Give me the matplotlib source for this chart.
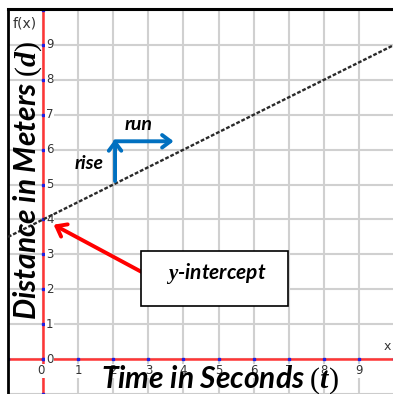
import matplotlib
import numpy as np

matplotlib.use("Agg")
from matplotlib import pyplot as plt
from matplotlib.patches import Rectangle

# data
x_ticks = [0, 1, 2, 3, 4, 5, 6, 7, 8, 9]
y_ticks = [0, 1, 2, 3, 4, 5, 6, 7, 8, 9]
line_x = [-1.0, 10.0]
line_y = [3.5, 9.0]
rise_start = (2.05, 5.1)
rise_end = (2.05, 6.3)
run_start = (2.05, 6.24)
run_end = (3.72, 6.24)
callout_tail = (2.8, 2.5)
callout_head = (0.3, 3.85)

plt.rcParams["mathtext.fontset"] = "custom"
plt.rcParams["mathtext.rm"] = "Liberation Serif"
plt.rcParams["mathtext.it"] = "Liberation Serif:italic:bold"

W, H = 393, 394
fig = plt.figure(figsize=(W / 100, H / 100), dpi=100)
ax = fig.add_axes([8 / W, 0, 385 / W, 385 / H])
ax.set_xlim(-1.0, 9.97)
ax.set_ylim(-1.0, 10.03)

# grid
for v in range(-1, 11):
    ax.axvline(v, color="#d0d0d0", lw=1.5, zorder=0)
    ax.axhline(v, color="#d0d0d0", lw=1.5, zorder=0)

# axes lines
ax.axvline(0, color="#ff3535", lw=1.8, zorder=1)
ax.axhline(0, color="#ff3535", lw=1.8, zorder=1)
ticks = np.arange(-1, 11)
ax.plot(ticks, np.zeros_like(ticks), "s", color="#2020e0", ms=2, zorder=2)
ax.plot(np.zeros_like(ticks), ticks, "s", color="#2020e0", ms=2, zorder=2)

lab = dict(fontsize=8.5, color="#333333", family="DejaVu Sans", zorder=3,
           bbox=dict(facecolor="white", edgecolor="none", pad=0.3))
for t in y_ticks:
    ax.text(0.08, t, str(t), ha="left", va="center", **lab)
for t in x_ticks:
    ax.text(t - (0.05 if t == 0 else 0), -0.33, str(t), ha="center", va="center", **lab)
ax.text(-0.53, 9.62, "f(x)", ha="center", va="center", fontsize=10, color="#333333")
ax.text(9.8, 0.35, "x", ha="center", va="center", fontsize=9, color="#333333")

# line
ax.plot(line_x, line_y, color="#2a2a2a", lw=1.7, ls=(0, (1.6, 0.8)), zorder=4)

# rise / run arrows
blue = "#0070c0"
arr = dict(arrowstyle="->,head_length=0.6,head_width=0.45", color=blue, lw=2.8,
           shrinkA=0, shrinkB=0)
ax.annotate("", xy=rise_end, xytext=rise_start, arrowprops=arr, zorder=5)
ax.annotate("", xy=run_end, xytext=run_start, arrowprops=arr, zorder=5)
txt = dict(family="Lato", weight="bold", style="italic", color="black")
ax.text(1.72, 5.59, "rise", ha="right", va="center", fontsize=14, **txt)
ax.text(2.73, 6.71, "run", ha="center", va="center", fontsize=14, **txt)

# y-intercept callout
ax.annotate("", xy=callout_head, xytext=callout_tail,
            arrowprops=dict(arrowstyle="->,head_length=0.65,head_width=0.5",
                            color="#ff0000", lw=2.8, shrinkA=0, shrinkB=0), zorder=5)
ax.add_patch(Rectangle((2.785, 1.52), 4.19, 1.575, facecolor="white",
                       edgecolor="black", lw=1.2, zorder=6))
ax.text(4.92, 2.44, "$y$-intercept", ha="center", va="center", fontsize=15, zorder=7,
        **txt)

# axis titles
ax.text(-0.45, 5.13, r"Distance in Meters $(d)$", rotation=90, ha="center", va="center",
        fontsize=21.5, zorder=6, **txt)
ax.text(5.04, -0.58, r"Time in Seconds $(t)$", ha="center", va="center",
        fontsize=21.5, zorder=6, **txt)

ax.spines["right"].set_visible(False)
ax.spines["left"].set_linewidth(2)
ax.spines["top"].set_linewidth(2.2)
ax.spines["bottom"].set_color("#888888")
ax.set_xticks([])
ax.set_yticks([])

fig.savefig("out.png", dpi=100)
